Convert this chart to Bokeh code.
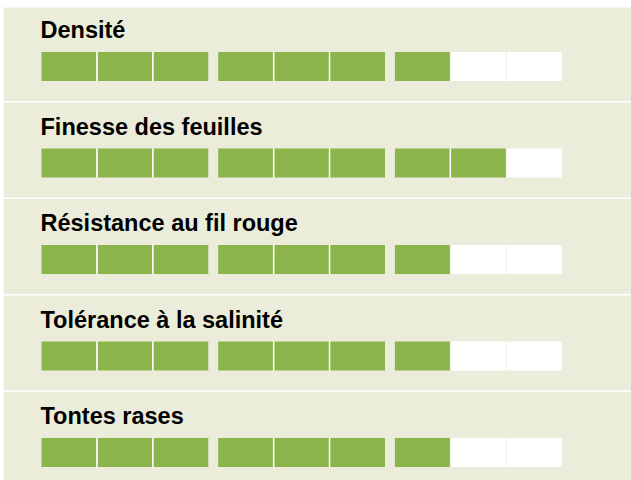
from bokeh.plotting import figure
from bokeh.models import Range1d, ColumnDataSource
from bokeh.core.properties import value
from bokeh.embed import file_html
from bokeh.resources import INLINE

# ---- data ----
categories = ["Densité", "Finesse des feuilles", "Résistance au fil rouge",
              "Tolérance à la salinité", "Tontes rases"]
scores = [7, 8, 7, 7, 7]
max_score = 9
group_size = 3

# ---- styles / layout ----
BG = "#EBEDDA"
GREEN = "#8BB44A"
EMPTY = "#FFFFFF"
W, H = 631, 480
PANEL_X0 = 3
PANEL_X1 = 640
PANEL0_TOP = 7
PANEL_PITCH = 96.5
PANEL_H = 95
CELL_X0 = 41
CELL_STEP = 55.9
CELL_W = 55
GROUP_GAP = 9
BAR_OFF = 46
BAR_H = 29
TITLE_OFF = 24

p = figure(width=W, height=H,
           x_range=Range1d(0, W), y_range=Range1d(H, 0),
           output_backend="svg", toolbar_location=None, min_border=0,
           x_axis_type=None, y_axis_type=None)
p.grid.visible = False
p.outline_line_color = None
p.background_fill_color = "white"
p.border_fill_color = "white"

panel_tops = [102 - PANEL_PITCH + i * PANEL_PITCH for i in range(len(categories))]
panel_vis_tops = [max(t, PANEL0_TOP) for t in panel_tops]

# panel backgrounds
p.quad(left=[PANEL_X0] * len(categories), right=[PANEL_X1] * len(categories),
       top=panel_vis_tops, bottom=[t + PANEL_H for t in panel_tops],
       fill_color=BG, line_color=None)

# cells
lefts, rights, tops, bottoms, colors = [], [], [], [], []
sx, sy0, sy1 = [], [], []
for i, (cat, sc) in enumerate(zip(categories, scores)):
    t = panel_tops[i] + BAR_OFF
    for k in range(max_score):
        g = k // group_size
        l = CELL_X0 + k * CELL_STEP + g * GROUP_GAP
        lefts.append(l)
        rights.append(l + CELL_W)
        tops.append(t)
        bottoms.append(t + BAR_H)
        colors.append(GREEN if k < sc else EMPTY)
        if k < sc - 1 and (k + 1) // group_size == g:
            sx.append(l + (CELL_W + CELL_STEP) / 2)
            sy0.append(t)
            sy1.append(t + BAR_H)

p.quad(source=ColumnDataSource(dict(left=lefts, right=rights, top=tops,
                                    bottom=bottoms, color=colors)),
       left="left", right="right", top="top", bottom="bottom",
       fill_color="color", line_color=None)
p.segment(x0=sx, x1=sx, y0=sy0, y1=sy1, line_color="white", line_width=1.5)

# titles
p.text(x=[40] * len(categories), y=[t + TITLE_OFF for t in panel_tops],
       text=categories, text_font=value("Liberation Sans"),
       text_font_style="bold", text_font_size="23.5px",
       text_color="#000000", text_baseline="alphabetic", text_align="left")

open("out.html", "w").write(file_html(p, INLINE))
